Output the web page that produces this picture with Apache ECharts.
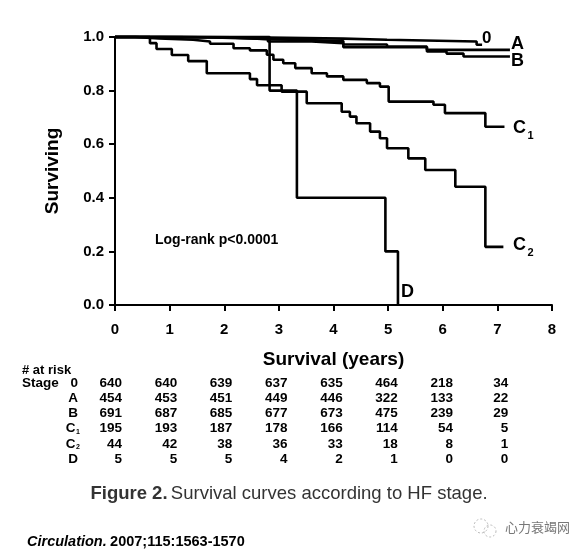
<!DOCTYPE html>
<html><head><meta charset="utf-8">
<script src="https://cdn.jsdelivr.net/npm/echarts@6/dist/echarts.min.js"></script>
<style>html,body{margin:0;padding:0;background:#fff}#c{width:584px;height:558px}</style>
</head><body><div id="c"></div>
<script>
// ---------- data ----------
const xTicks = [0, 1, 2, 3, 4, 5, 6, 7, 8];
const yTicks = [0.0, 0.2, 0.4, 0.6, 0.8, 1.0];

const times0 = [0, 1.5, 2.8, 4.18, 4.98, 6.62, 6.72];
const surv0  = [1, 0.998, 0.994, 0.99, 0.983, 0.971, 0.971];

const timesA = [0, 1.2, 2.2, 2.8, 4.18, 4.98, 5.71, 7.23];
const survA  = [1, 0.997, 0.992, 0.985, 0.972, 0.964, 0.952, 0.952];

const timesB = [0, 0.8, 1.8, 2.8, 3.6, 4.18, 5.71, 6.07, 6.38, 7.23];
const survB  = [1, 0.998, 0.993, 0.983, 0.977, 0.962, 0.946, 0.938, 0.927, 0.927];

const timesC1 = [0, 0.37, 0.8, 1.43, 1.74, 2.17, 2.47, 2.78, 2.9, 3.08, 3.3, 3.6, 3.88, 4.18, 4.61, 4.85, 5.01, 5.83, 6.04, 6.78, 7.13];
const survC1  = [1, 0.995, 0.99, 0.983, 0.975, 0.958, 0.95, 0.934, 0.915, 0.902, 0.884, 0.865, 0.853, 0.84, 0.828, 0.815, 0.759, 0.747, 0.716, 0.665, 0.665];

const timesC2 = [0, 0.64, 0.76, 1.04, 1.34, 1.68, 2.47, 2.6, 3.05, 3.51, 4.15, 4.3, 4.42, 4.67, 4.85, 4.98, 5.37, 5.68, 6.23, 6.78, 7.11];
const survC2  = [1, 0.977, 0.955, 0.933, 0.91, 0.865, 0.843, 0.82, 0.796, 0.753, 0.721, 0.703, 0.678, 0.647, 0.622, 0.585, 0.547, 0.504, 0.441, 0.217, 0.217];

const timesD = [0, 2.83, 3.33, 4.95, 5.18];
const survD  = [1, 0.8, 0.4, 0.2, 0];

const stageNames = ['0', 'A', 'B', 'C', 'C', 'D'];
const stageSubs  = ['', '', '', '1', '2', ''];
const riskYears  = [0, 1, 2, 3, 4, 5, 6, 7];
const risk0  = [640, 640, 639, 637, 635, 464, 218, 34];
const riskA  = [454, 453, 451, 449, 446, 322, 133, 22];
const riskB  = [691, 687, 685, 677, 673, 475, 239, 29];
const riskC1 = [195, 193, 187, 178, 166, 114, 54, 5];
const riskC2 = [44, 42, 38, 36, 33, 18, 8, 1];
const riskD  = [5, 5, 5, 4, 2, 1, 0, 0];

// ---------- chart ----------
const FONT = '"Liberation Sans", Arial, Helvetica, sans-serif';
const chart = echarts.init(document.getElementById('c'), null, {renderer: 'canvas'});
const pairs = (t, s) => t.map((v, i) => [v, s[i]]);
const curves = [[times0, surv0], [timesA, survA], [timesB, survB], [timesC1, survC1], [timesC2, survC2], [timesD, survD]];

chart.setOption({
  animation: false,
  backgroundColor: '#fff',
  grid: {left: 115, top: 37, width: 437, height: 268},
  xAxis: {
    type: 'value', min: xTicks[0], max: xTicks[xTicks.length - 1], interval: 1,
    name: 'Survival (years)', nameLocation: 'middle', nameGap: 45,
    nameTextStyle: {fontFamily: FONT, fontWeight: 'bold', fontSize: 19, color: '#000'},
    axisLine: {lineStyle: {color: '#000', width: 2}},
    axisTick: {length: 6, lineStyle: {color: '#000', width: 2}},
    axisLabel: {fontFamily: FONT, fontWeight: 'bold', fontSize: 15, color: '#000', margin: 17},
    splitLine: {show: false}
  },
  yAxis: {
    type: 'value', min: yTicks[0], max: yTicks[yTicks.length - 1], interval: 0.2,
    name: 'Surviving', nameLocation: 'middle', nameGap: 53, nameRotate: 90,
    nameTextStyle: {fontFamily: FONT, fontWeight: 'bold', fontSize: 19, color: '#000'},
    axisLine: {show: true, lineStyle: {color: '#000', width: 2}},
    axisTick: {show: true, length: 6, lineStyle: {color: '#000', width: 2}},
    axisLabel: {fontFamily: FONT, fontWeight: 'bold', fontSize: 15, color: '#000', margin: 11,
      formatter: v => v.toFixed(1)},
    splitLine: {show: false}
  },
  series: curves.map(c => ({
    type: 'line', step: 'end', symbol: 'none', clip: false,
    data: pairs(c[0], c[1]),
    lineStyle: {color: '#000', width: 2.6}
  }))
});

// ---------- annotations & table ----------
const g = [];
const txt = (x, y, text, size, style) => g.push({
  type: 'text', x: x, y: y,
  style: Object.assign({text: text, fontFamily: FONT, fontWeight: 'bold', fontSize: size, fill: '#000',
    textAlign: 'left', textVerticalAlign: 'middle'}, style || {})
});

// curve labels
txt(482, 38, '0', 17);
txt(511, 44, 'A', 18);
txt(511, 61, 'B', 18);
txt(513, 128, 'C', 18);
txt(527.5, 136, '1', 11);
txt(513, 245, 'C', 18);
txt(527.5, 253, '2', 11);
txt(401, 292, 'D', 18);
txt(155, 240, 'Log-rank p<0.0001', 14);

// at-risk table
txt(22, 370, '# at risk', 13);
txt(22, 383, 'Stage', 13.5);
const rows = [risk0, riskA, riskB, riskC1, riskC2, riskD];
const rowY0 = 383, rowStep = 15.2;
rows.forEach((r, ri) => {
  const y = rowY0 + ri * rowStep;
  if (stageSubs[ri]) {
    txt(75.5, y, stageNames[ri], 13.5, {textAlign: 'right'});
    txt(76, y + 3, stageSubs[ri], 7);
  } else {
    txt(78, y, stageNames[ri], 13.5, {textAlign: 'right'});
  }
  r.forEach((v, ci) => {
    const px = chart.convertToPixel({xAxisIndex: 0}, riskYears[ci]);
    txt(px + 7 + ci * 0.55, y, String(v), 13.5, {textAlign: 'right'});
  });
});

// caption
g.push({type: 'text', x: 289, y: 494, style: {
  text: '{b|Figure 2.} {n|Survival curves according to HF stage.}',
  textAlign: 'center', textVerticalAlign: 'middle', fontFamily: FONT,
  rich: {b: {fontFamily: FONT, fontWeight: 'bold', fontSize: 18.5, fill: '#333'},
         n: {fontFamily: FONT, fontSize: 18.5, fill: '#333'}}
}});
g.push({type: 'text', x: 27, y: 542, style: {
  text: '{i|Circulation.} {b|2007;115:1563-1570}',
  textAlign: 'left', textVerticalAlign: 'middle', fontFamily: FONT,
  rich: {i: {fontFamily: FONT, fontWeight: 'bold', fontStyle: 'italic', fontSize: 14.5, fill: '#000'},
         b: {fontFamily: FONT, fontWeight: 'bold', fontSize: 14.5, fill: '#000'}}
}});
// watermark
g.push({type: 'circle', shape: {cx: 481, cy: 526, r: 7}, style: {fill: 'none', stroke: '#bbb', lineWidth: 1, lineDash: [2, 2]}});
g.push({type: 'circle', shape: {cx: 490, cy: 531, r: 6}, style: {fill: 'none', stroke: '#bbb', lineWidth: 1, lineDash: [2, 2]}});
g.push({type: 'text', x: 505, y: 527, style: {text: '心力衰竭网', fontFamily: '"Noto Sans CJK SC", sans-serif',
  fontSize: 13, fill: '#777', textAlign: 'left', textVerticalAlign: 'middle'}});

chart.setOption({graphic: g});
</script></body></html>
